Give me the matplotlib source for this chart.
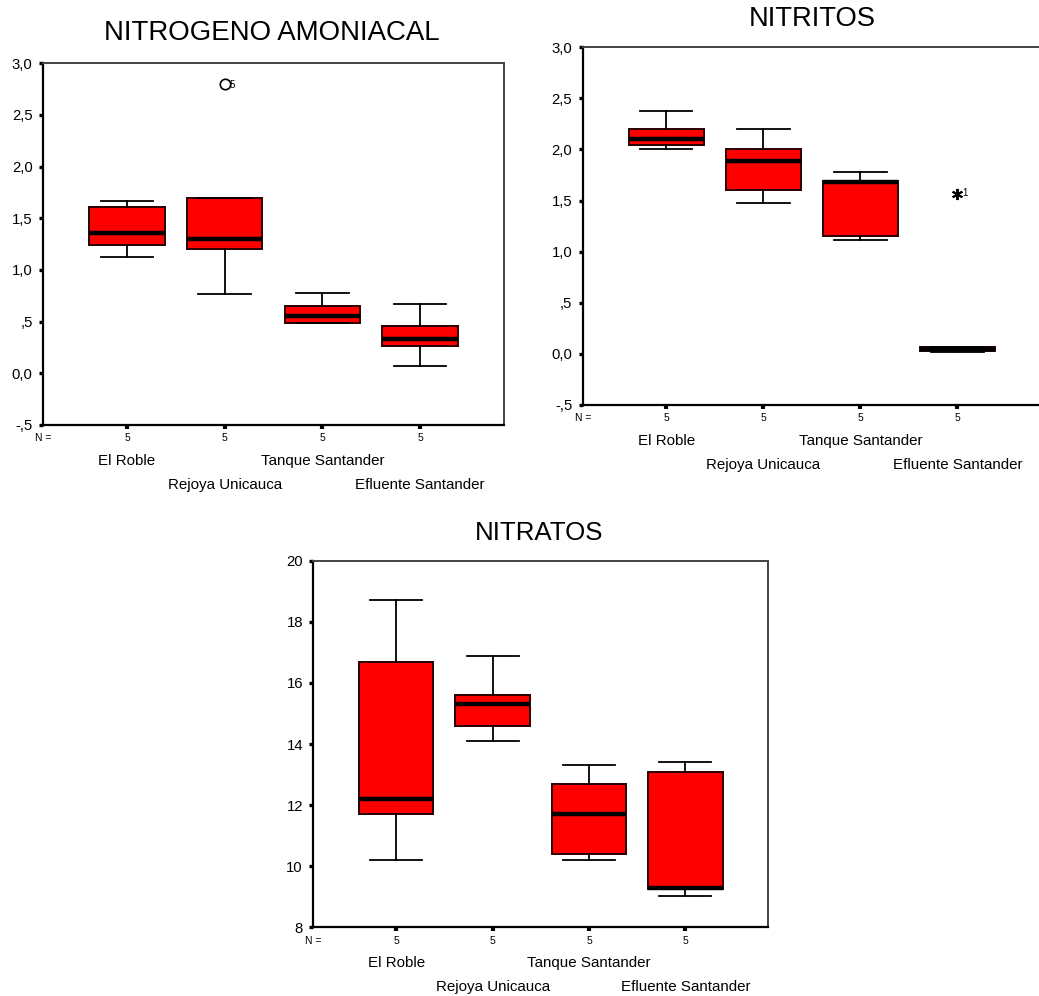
import matplotlib
matplotlib.use("Agg")
import matplotlib.pyplot as plt
from matplotlib.transforms import blended_transform_factory

plt.rcParams['font.family'] = ['Liberation Sans', 'DejaVu Sans']

sites = ["El Roble", "Rejoya Unicauca", "Tanque Santander", "Efluente Santander"]
n_counts = [5, 5, 5, 5]

# Nitrógeno amoniacal (mg/L)
amon_whislo = [1.13, 0.77, 0.49, 0.07]
amon_q1 = [1.24, 1.20, 0.49, 0.26]
amon_med = [1.36, 1.30, 0.55, 0.33]
amon_q3 = [1.61, 1.70, 0.65, 0.455]
amon_whishi = [1.67, 1.70, 0.78, 0.675]
amon_outliers = [[], [2.80], [], []]
amon_outlier_ids = [[], ["5"], [], []]

# Nitritos
nitri_whislo = [2.005, 1.48, 1.115, 0.02]
nitri_q1 = [2.04, 1.60, 1.15, 0.025]
nitri_med = [2.10, 1.89, 1.68, 0.05]
nitri_q3 = [2.20, 2.005, 1.695, 0.07]
nitri_whishi = [2.38, 2.20, 1.78, 0.07]
nitri_extremes = [[], [], [], [1.565]]
nitri_extreme_ids = [[], [], [], ["1"]]

# Nitratos
nitra_whislo = [10.21, 14.11, 10.21, 9.03]
nitra_q1 = [11.71, 14.60, 10.40, 9.25]
nitra_med = [12.21, 15.31, 11.72, 9.30]
nitra_q3 = [16.67, 15.61, 12.69, 13.09]
nitra_whishi = [18.71, 16.89, 13.31, 13.41]

yticks_top = [-0.5, 0.0, 0.5, 1.0, 1.5, 2.0, 2.5, 3.0]
ytick_labels_top = ["-,5", "0,0", ",5", "1,0", "1,5", "2,0", "2,5", "3,0"]
yticks_bottom = [8, 10, 12, 14, 16, 18, 20]
ytick_labels_bottom = ["8", "10", "12", "14", "16", "18", "20"]

W, H = 1039, 996
fig = plt.figure(figsize=(W / 100, H / 100), dpi=100)


def px_axes(left, top, right, bottom):
    return fig.add_axes([left / W, 1 - bottom / H, (right - left) / W, (bottom - top) / H])


def draw_panel(ax, whislo, q1, med, q3, whishi, yticks, ylabels, fliers=None):
    positions = [1, 2, 3, 4]
    stats = []
    for i in range(4):
        stats.append(dict(whislo=whislo[i], q1=q1[i], med=med[i], q3=q3[i],
                          whishi=whishi[i], fliers=[]))
    ax.bxp(stats, positions=positions, widths=0.77, patch_artist=True,
           showfliers=False,
           boxprops=dict(facecolor="#ff0000", edgecolor="#2a0000", linewidth=1.4),
           medianprops=dict(color="black", linewidth=3.2, solid_capstyle="butt"),
           whiskerprops=dict(color="black", linewidth=1.3),
           capprops=dict(color="black", linewidth=1.3),
           capwidths=0.54)
    ax.set_xlim(0.14, 4.86)
    ax.set_ylim(yticks[0], yticks[-1])
    ax.set_yticks(yticks)
    ax.set_yticklabels(ylabels, fontsize=10.7)
    ax.set_xticks(positions)
    ax.set_xticklabels([])
    ax.tick_params(axis="y", direction="out", length=3, width=2.4, pad=4.5, color="black")
    ax.tick_params(axis="x", direction="out", length=3, width=3, color="black")
    for side in ["left", "bottom"]:
        ax.spines[side].set_linewidth(1.6)
        ax.spines[side].set_color("black")
    for side in ["top", "right"]:
        ax.spines[side].set_linewidth(1.4)
        ax.spines[side].set_color("#444444")
    trans = blended_transform_factory(ax.transData, ax.transAxes)
    ax.annotate("N =", xy=(0, 0), xycoords="axes fraction", xytext=(0, -9.6),
                textcoords="offset points", ha="center", va="center", fontsize=7.5,
                annotation_clip=False)
    for i, pos in enumerate(positions):
        ax.annotate(str(n_counts[i]), xy=(pos, 0), xycoords=trans, xytext=(0, -9.6),
                    textcoords="offset points", ha="center", va="center", fontsize=7.5,
                    annotation_clip=False)
        dy = -25.7 if i % 2 == 0 else -43.2
        ax.annotate(sites[i], xy=(pos, 0), xycoords=trans, xytext=(0, dy),
                    textcoords="offset points", ha="center", va="center", fontsize=10.9,
                    annotation_clip=False)


# NITROGENO AMONIACAL
ax1 = px_axes(43, 63.3, 504, 425)
draw_panel(ax1, amon_whislo, amon_q1, amon_med, amon_q3, amon_whishi,
           yticks_top, ytick_labels_top)
for i, vals in enumerate(amon_outliers):
    for v, lab in zip(vals, amon_outlier_ids[i]):
        ax1.plot(i + 1, v, marker="o", markersize=7.5, markerfacecolor="white",
                 markeredgecolor="black", markeredgewidth=1.2, linestyle="none")
        ax1.annotate(lab, xy=(i + 1, v), xytext=(3.2, -0.5), textcoords="offset points",
                     ha="left", va="center", fontsize=7)
fig.text(272 / W, 1 - 40 / H, "NITROGENO AMONIACAL", ha="center", va="baseline",
         fontsize=19.9)

# NITRITOS
ax2 = px_axes(582.7, 47.3, 1041, 405)
draw_panel(ax2, nitri_whislo, nitri_q1, nitri_med, nitri_q3, nitri_whishi,
           yticks_top, ytick_labels_top)
for i, vals in enumerate(nitri_extremes):
    for v, lab in zip(vals, nitri_extreme_ids[i]):
        ax2.plot(i + 1, v, marker=(6, 2, 0), markersize=8, markeredgecolor="black",
                 markeredgewidth=1.4, linestyle="none")
        ax2.annotate(lab, xy=(i + 1, v), xytext=(3.5, 0.5), textcoords="offset points",
                     ha="left", va="center", fontsize=7)
fig.text(812 / W, 1 - 26 / H, "NITRITOS", ha="center", va="baseline", fontsize=19.7)

# NITRATOS
ax3 = px_axes(313.3, 560.7, 768.3, 927.3)
draw_panel(ax3, nitra_whislo, nitra_q1, nitra_med, nitra_q3, nitra_whishi,
           yticks_bottom, ytick_labels_bottom)
fig.text(538.7 / W, 1 - 540 / H, "NITRATOS", ha="center", va="baseline", fontsize=18.6)

fig.savefig("out.png", dpi=100, facecolor="white")
